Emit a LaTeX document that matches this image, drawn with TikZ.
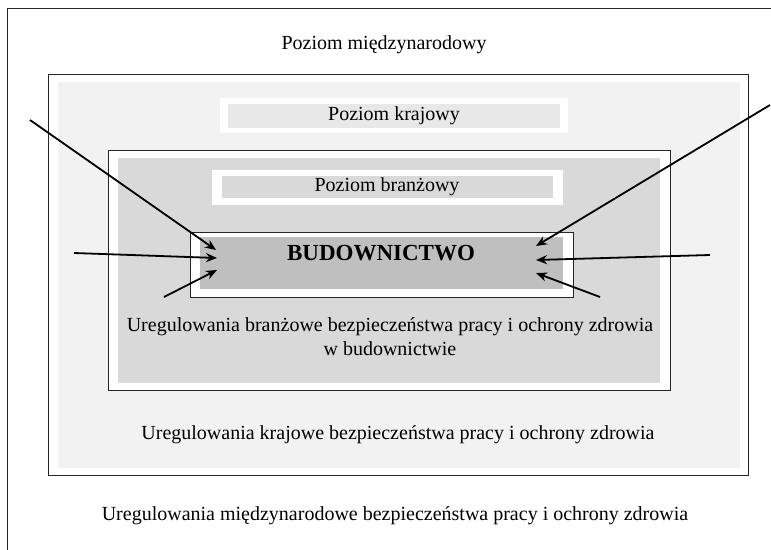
\documentclass[tikz,border=0pt]{standalone}
\usepackage{fontspec}
\setmainfont{Liberation Serif}
\usetikzlibrary{arrows.meta}
\definecolor{lvlA}{HTML}{F2F2F2}
\definecolor{lvlB}{HTML}{D9D9D9}
\definecolor{lvlC}{HTML}{BFBFBF}
\begin{document}
\begin{tikzpicture}[x=1pt,y=-1pt,
  frame/.style={draw=black!85,line width=1pt},
  txt/.style={font=\fontsize{20}{24}\selectfont,inner sep=0pt},
  arr/.style={line width=1.8pt,-{Stealth[length=11pt,width=9pt]}}]
\useasboundingbox (0,0) rectangle (771,549);
% outer frame (extends beyond the picture)
\draw[frame] (7,560) -- (7,8) -- (780,8);
\node[txt] (tint) at (384,45) {Poziom międzynarodowy};
% national box
\draw[frame,fill=white] (48,74) rectangle (748,475);
\fill[lvlA] (58,82) rectangle (740,468);
\fill[white] (220,98) rectangle (568,133);
\fill[lvlA!96!black] (228,104) rectangle (560,128);
\node[txt] (tkraj) at (394,116) {Poziom krajowy};
% branch box
\draw[frame,fill=white] (108,150) rectangle (670,390);
\fill[lvlB] (118,158) rectangle (660,383);
\fill[white] (212,170) rectangle (563,205);
\fill[lvlB] (222,176) rectangle (553,198);
\node[txt] (tbranz) at (387,187) {Poziom branżowy};
% core box
\draw[frame,fill=white] (190,232) rectangle (573,297);
\fill[lvlC] (200,237) rectangle (563,289);
\node[txt,font=\fontsize{23}{26}\selectfont\bfseries] (tbud) at (381,253) {BUDOWNICTWO};
\coordinate (L1) at (216,250);
\coordinate (L2) at (217,258);
\coordinate (L3) at (217,270);
\coordinate (R1) at (536,246);
\coordinate (R2) at (536,260);
\coordinate (R3) at (536,273);
\node[txt,align=center] (tbr) at (390,337) {Uregulowania branżowe bezpieczeństwa pracy i ochrony zdrowia\\[0pt]w budownictwie};
\node[txt] (tkr) at (398,435) {Uregulowania krajowe bezpieczeństwa pracy i ochrony zdrowia};
\node[txt] (tmi) at (395,516) {Uregulowania międzynarodowe bezpieczeństwa pracy i ochrony zdrowia};
% arrows
\coordinate (a1) at (30,120);
\coordinate (a2) at (74,253);
\coordinate (a3) at (164,297);
\coordinate (b1) at (770,105);
\coordinate (b2) at (710,255);
\coordinate (b3) at (600,297);
\draw[arr] (a1) -- (L1);
\draw[arr] (a2) -- (L2);
\draw[arr] (a3) -- (L3);
\draw[arr] (b1) -- (R1);
\draw[arr] (b2) -- (R2);
\draw[arr] (b3) -- (R3);
\end{tikzpicture}
\end{document}
